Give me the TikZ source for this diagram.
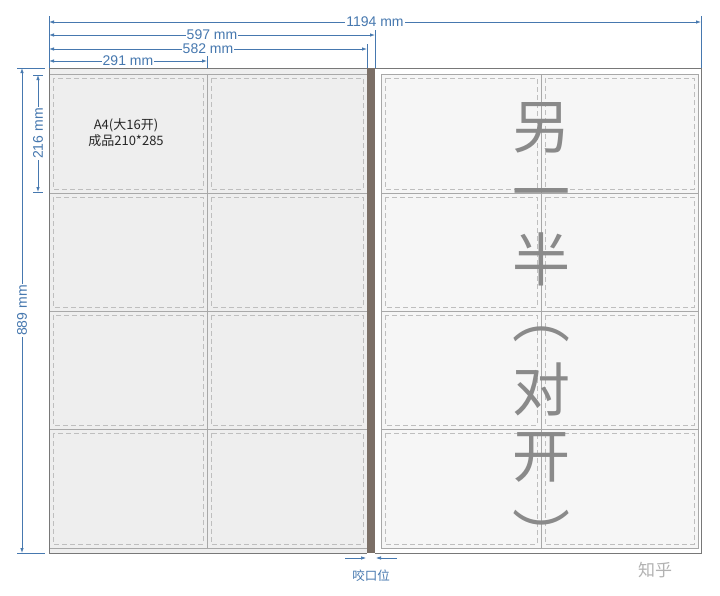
\documentclass[tikz,border=0pt]{standalone}
\usepackage{fontspec}
\setmainfont{Liberation Sans}
\newfontfamily\cjk{Noto Sans CJK SC}
\usetikzlibrary{arrows.meta}
\definecolor{dimblue}{RGB}{70,120,175}
\definecolor{spinebrown}{RGB}{123,111,102}
\definecolor{leftfill}{RGB}{238,238,238}
\definecolor{rightfill}{RGB}{246,246,246}
\definecolor{cellgray}{RGB}{168,168,168}
\definecolor{cutgray}{RGB}{190,190,190}
\definecolor{framegray}{RGB}{120,120,120}
\definecolor{bigtext}{RGB}{138,138,138}

\begin{document}
\begin{tikzpicture}[x=1pt,y=-1pt,
  dimline/.style={draw=dimblue,line width=0.8pt,{Latex[length=5pt,width=3.5pt]}-{Latex[length=5pt,width=3.5pt]}},
  extline/.style={draw=dimblue,line width=0.6pt},
  dimlabel/.style={fill=white,text=dimblue,inner sep=1pt,font=\fontsize{14}{14}\selectfont},
  cellline/.style={draw=cellgray,line width=0.8pt},
  cutline/.style={draw=cutgray,line width=0.6pt,dash pattern=on 5pt off 3pt},
  bigchar/.style={text=bigtext,inner sep=0pt,text height=46pt,text depth=4pt,font=\cjk\fontsize{58}{58}\selectfont}]

\fill[white] (0,0) rectangle (720,595);
\useasboundingbox (0,0) rectangle (720,595);

% left half (A4 cells)
\fill[leftfill] (49,68) rectangle (367,553);
\foreach \xa/\xb in {49/207,207/367}
  \foreach \ya/\yb in {74/193,193/311,311/429,429/548} {
    \draw[cellline] (\xa,\ya) rectangle (\xb,\yb);
    \draw[cutline] (\xa+4,\ya+4) rectangle (\xb-4,\yb-4);
  }

% right half
\foreach \xa/\xb in {381/541,541/698}
  \foreach \ya/\yb in {74/193,193/311,311/429,429/548} {
    \fill[rightfill] (\xa,\ya) rectangle (\xb,\yb);
    \draw[cellline] (\xa,\ya) rectangle (\xb,\yb);
    \draw[cutline] (\xa+4,\ya+4) rectangle (\xb-4,\yb-4);
  }

% frame and spine
\draw[framegray,line width=0.9pt] (49,553) -- (49,68) -- (701,68) -- (701,553) -- (375,553);
\draw[framegray,line width=0.9pt] (49,553) -- (367,553);
\fill[spinebrown] (367,68) rectangle (375,553);

% top dimensions
\draw[extline] (49,16) -- (49,68);
\draw[extline] (701,16) -- (701,68);
\draw[extline] (375,30) -- (375,68);
\draw[extline] (367,44) -- (367,68);
\draw[extline] (207,56) -- (207,68);
\draw[dimline] (49,22) -- (701,22) node[dimlabel,midway] (l1194) {1194 mm};
\draw[dimline] (49,35) -- (375,35) node[dimlabel,midway] (l597) {597 mm};
\draw[dimline] (49,49) -- (367,49) node[dimlabel,midway] (l582) {582 mm};
\draw[dimline] (49,61) -- (207,61) node[dimlabel,midway] (l291) {291 mm};

% left dimensions
\draw[extline] (17,68) -- (45,68);
\draw[extline] (17,553) -- (45,553);
\draw[dimline] (22,68) -- (22,553) node[dimlabel,midway,rotate=90] (l889) {889 mm};
\draw[extline] (33,75) -- (43,75);
\draw[extline] (33,192) -- (43,192);
\draw[dimline] (38,75) -- (38,192) node[dimlabel,midway,rotate=90] (l216) {216 mm};

% gripper margin
\draw[extline,-{Latex[length=5pt,width=3.5pt]}] (345,558) -- (366,558);
\draw[extline,-{Latex[length=5pt,width=3.5pt]}] (397,558) -- (376,558);
\node[text=dimblue,font=\cjk\fontsize{12.5}{12.5}\selectfont] (bite) at (371,576) {咬口位};

% texts
\node[align=center,text=black!85,font=\cjk\fontsize{13}{16}\selectfont] (a4) at (126,133) {A4(大16开)\\成品210*285};
\foreach \c/\y [count=\i] in {另/127,一/192,半/260,︵/316,对/390,开/456,︶/537}
  \node[bigchar] (t\i) at (541,\y) {\c};
\node[text=black!30,font=\cjk\fontsize{17}{17}\selectfont] (wm) at (655,570) {知乎};

\end{tikzpicture}
\end{document}
